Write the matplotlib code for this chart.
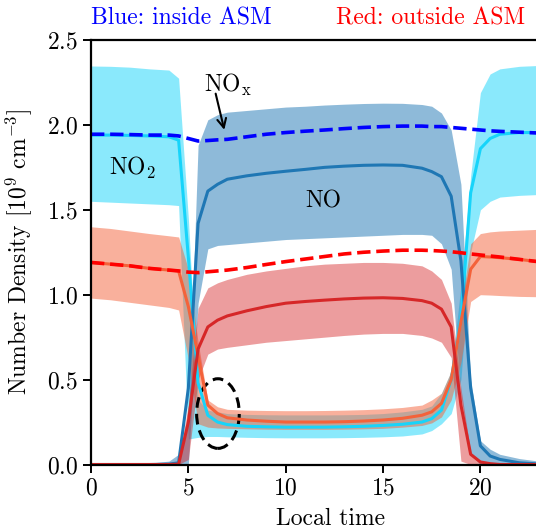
import matplotlib
matplotlib.use("Agg")
import matplotlib.pyplot as plt
from matplotlib.patches import Ellipse

plt.rcParams["font.family"] = "serif"
plt.rcParams["font.serif"] = ["cmr10"]
plt.rcParams["mathtext.fontset"] = "cm"
plt.rcParams["axes.formatter.use_mathtext"] = True
plt.rcParams["font.size"] = 17

# local time grid (finer around sunrise / sunset)
hours = [0, 1, 2, 3, 4, 4.5, 5, 5.5, 6, 6.5, 7, 8, 9, 10, 11, 12, 13, 14, 15, 16,
         17, 17.5, 18, 18.5, 19, 19.5, 20, 20.5, 21, 22, 23]

# inside ASM
nox_in = [1.945, 1.945, 1.943, 1.94, 1.94, 1.935, 1.92, 1.905, 1.908, 1.912, 1.915,
          1.93, 1.945, 1.955, 1.963, 1.97, 1.978, 1.985, 1.99, 1.993, 1.993, 1.99,
          1.99, 1.985, 1.98, 1.975, 1.97, 1.965, 1.962, 1.957, 1.952]
no2_in = [1.94, 1.94, 1.938, 1.935, 1.93, 1.91, 1.22, 0.48, 0.29, 0.25, 0.235, 0.225,
          0.222, 0.22, 0.22, 0.22, 0.222, 0.225, 0.23, 0.237, 0.25, 0.27, 0.32, 0.5,
          0.85, 1.6, 1.86, 1.92, 1.945, 1.955, 1.955]
no2_in_lo = [1.55, 1.545, 1.54, 1.535, 1.53, 1.525, 0.15, 0.16, 0.165, 0.165, 0.163,
             0.16, 0.158, 0.157, 0.157, 0.157, 0.158, 0.16, 0.163, 0.168, 0.18, 0.2,
             0.24, 0.3, 0.5, 1.25, 1.5, 1.55, 1.575, 1.585, 1.59]
no2_in_hi = [2.347, 2.345, 2.34, 2.33, 2.323, 2.275, 1.45, 0.38, 0.32, 0.31, 0.3,
             0.295, 0.293, 0.292, 0.292, 0.292, 0.293, 0.295, 0.3, 0.31, 0.325, 0.345,
             0.42, 0.55, 1.05, 1.7, 2.19, 2.3, 2.33, 2.345, 2.35]
no_in = [0, 0, 0, 0, 0.002, 0.01, 0.45, 1.42, 1.61, 1.65, 1.68, 1.70, 1.715, 1.727,
         1.738, 1.75, 1.757, 1.762, 1.764, 1.762, 1.745, 1.725, 1.695, 1.58, 1.2, 0.45,
         0.11, 0.05, 0.03, 0.01, 0.003]
no_in_lo = [0, 0, 0, 0, 0, 0, 0, 0.95, 1.27, 1.29, 1.295, 1.305, 1.315, 1.325, 1.33,
            1.335, 1.34, 1.345, 1.35, 1.355, 1.355, 1.35, 1.30, 1.15, 0.4, 0.06, 0,
            0, 0, 0, 0]
no_in_hi = [0.005, 0.005, 0.005, 0.008, 0.02, 0.06, 0.25, 1.88, 2.03, 2.06, 2.075,
            2.085, 2.095, 2.105, 2.11, 2.117, 2.122, 2.126, 2.128, 2.127, 2.12, 2.11,
            2.07, 1.97, 1.65, 0.5, 0.14, 0.09, 0.06, 0.035, 0.02]

# outside ASM
nox_out = [1.19, 1.18, 1.17, 1.155, 1.145, 1.14, 1.133, 1.13, 1.135, 1.14, 1.145,
           1.16, 1.178, 1.195, 1.21, 1.225, 1.24, 1.25, 1.257, 1.262, 1.262, 1.26,
           1.257, 1.253, 1.247, 1.24, 1.234, 1.228, 1.222, 1.208, 1.194]
no2_out = [1.19, 1.18, 1.17, 1.155, 1.145, 1.14, 0.93, 0.64, 0.35, 0.3, 0.275, 0.262,
           0.255, 0.25, 0.25, 0.25, 0.252, 0.256, 0.262, 0.272, 0.29, 0.31, 0.36, 0.5,
           0.84, 1.15, 1.225, 1.222, 1.218, 1.208, 1.194]
no2_out_lo = [0.98, 0.97, 0.955, 0.94, 0.925, 0.91, 0.62, 0.24, 0.22, 0.215, 0.213,
              0.21, 0.208, 0.207, 0.207, 0.207, 0.208, 0.21, 0.213, 0.22, 0.23, 0.245,
              0.28, 0.38, 0.6, 0.96, 1.0, 0.998, 0.995, 0.99, 0.988]
no2_out_hi = [1.40, 1.39, 1.375, 1.36, 1.347, 1.34, 1.15, 0.72, 0.38, 0.34, 0.325,
              0.32, 0.318, 0.317, 0.317, 0.318, 0.32, 0.323, 0.328, 0.336, 0.35, 0.38,
              0.42, 0.55, 0.92, 1.3, 1.36, 1.37, 1.375, 1.38, 1.385]
no_out = [0, 0, 0, 0, 0, 0.002, 0.25, 0.68, 0.81, 0.85, 0.875, 0.905, 0.93, 0.95,
          0.96, 0.968, 0.975, 0.98, 0.982, 0.978, 0.965, 0.95, 0.915, 0.81, 0.35,
          0.06, 0.015, 0.005, 0, 0, 0]
no_out_lo = [0, 0, 0, 0, 0, 0, 0.03, 0.5, 0.65, 0.68, 0.69, 0.705, 0.72, 0.73, 0.74,
             0.75, 0.76, 0.768, 0.772, 0.772, 0.76, 0.745, 0.72, 0.63, 0.02, 0, 0, 0,
             0, 0, 0]
no_out_hi = [0.003, 0.003, 0.003, 0.005, 0.01, 0.02, 0.35, 0.92, 1.04, 1.07, 1.09,
             1.12, 1.14, 1.155, 1.17, 1.18, 1.185, 1.19, 1.19, 1.185, 1.17, 1.14, 1.09,
             0.95, 0.45, 0.07, 0.02, 0.005, 0.003, 0.003, 0.003]

CYAN = "#17d4fa"
ORANGE = "#f4623a"

fig = plt.figure(figsize=(5.36, 5.31), dpi=100)
ax = fig.add_axes([91 / 536, 66.5 / 531, 447.8 / 536, 424.5 / 531])

# inside ASM
ax.fill_between(hours, no2_in_lo, no2_in_hi, color=CYAN, alpha=0.5, lw=0)
ax.plot(hours, no2_in, color=CYAN, lw=2.2)
ax.fill_between(hours, no_in_lo, no_in_hi, color="tab:blue", alpha=0.5, lw=0)
ax.plot(hours, no_in, color="tab:blue", lw=2.2)
ax.plot(hours, nox_in, color="b", ls="--", lw=2.6)

# outside ASM
ax.fill_between(hours, no2_out_lo, no2_out_hi, color=ORANGE, alpha=0.5, lw=0)
ax.plot(hours, no2_out, color=ORANGE, lw=2.2)
ax.fill_between(hours, no_out_lo, no_out_hi, color="tab:red", alpha=0.45, lw=0)
ax.plot(hours, no_out, color="tab:red", lw=2.2)
ax.plot(hours, nox_out, color="r", ls="--", lw=2.6)

ax.add_patch(Ellipse((6.52, 0.30), 2.19, 0.41, fill=False, ec="k",
                     ls=(0, (3.5, 2)), lw=2.2))

ax.text(7.05, 2.235, r"NO$_\mathrm{x}$", ha="center", va="center")
ax.annotate("", xy=(6.88, 1.955), xytext=(6.37, 2.2),
            arrowprops=dict(arrowstyle="->", color="k", lw=1.5, mutation_scale=16))
ax.text(2.1, 1.745, r"NO$_2$", ha="center", va="center")
ax.text(11.92, 1.55, "NO", ha="center", va="center")

fig.text(91 / 536, 1 - 18 / 531, "Blue: inside ASM", color="#0000ff", ha="left", va="center")
fig.text(525 / 536, 1 - 18 / 531, "Red: outside ASM", color="#ff0000", ha="right", va="center")

ax.set_xlim(0, 23)
ax.set_ylim(0, 2.5)
ax.set_xticks([0, 5, 10, 15, 20])
ax.set_yticks([0, 0.5, 1.0, 1.5, 2.0, 2.5])
ax.set_xlabel("Local time")
ax.set_ylabel(r"Number Density [$10^9$ $\mathrm{cm}^{-3}$]")
ax.xaxis.set_label_coords(0.534, -0.102)
ax.yaxis.set_label_coords(-0.127, 0.5)
for s in ax.spines.values():
    s.set_linewidth(1.6)
ax.tick_params(direction="out", length=6, width=1.4)

fig.savefig("out.png", dpi=100)
